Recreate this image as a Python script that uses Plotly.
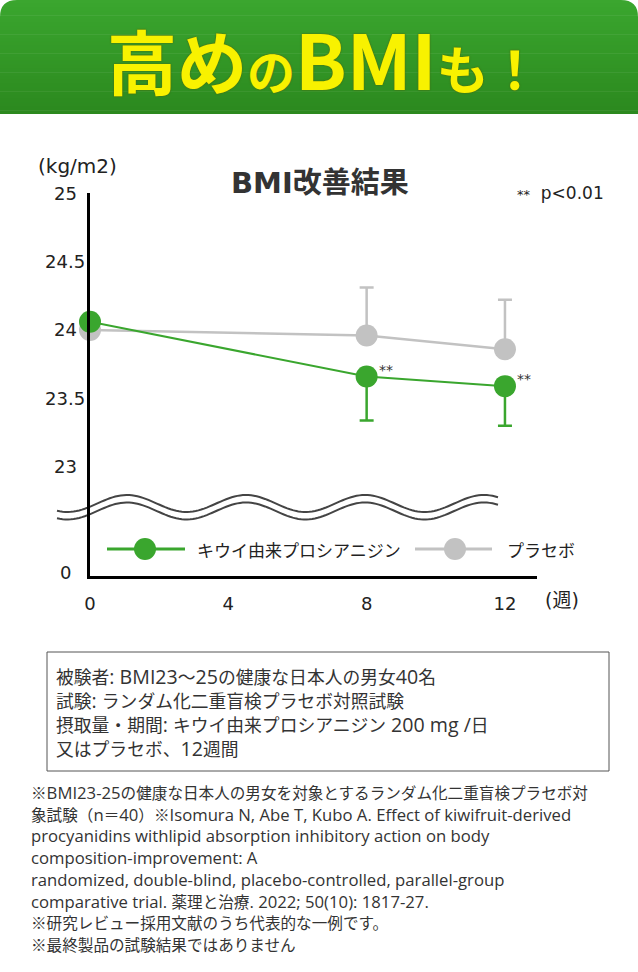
import re
import numpy as np
import plotly.graph_objects as go

# ---- data ----
weeks = [0, 8, 12]
kiwi_bmi = [24.06, 23.66, 23.59]
kiwi_err_minus = [0, 0.32, 0.29]
placebo_bmi = [24.00, 23.96, 23.86]
placebo_err_plus = [0, 0.35, 0.36]
signif_weeks = [8, 12]
signif_bmi = [23.66, 23.59]

x_ticks = [0, 4, 8, 12]
y_tickvals = [22.226, 23, 23.5, 24, 24.5, 25]
y_ticktext = ["0", "23", "23.5", "24", "24.5", "25"]

series_names = ["キウイ由来プロシアニジン", "プラセボ"]

box_lines = [
    "被験者: BMI23〜25の健康な日本人の男女40名",
    "試験: ランダム化二重盲検プラセボ対照試験",
    "摂取量・期間: キウイ由来プロシアニジン 200 mg /日",
    "又はプラセボ、12週間",
]
note_lines = [
    "※BMI23-25の健康な日本人の男女を対象とするランダム化二重盲検プラセボ対",
    "象試験（n＝40）※Isomura N, Abe T, Kubo A. Effect of kiwifruit-derived",
    "procyanidins withlipid absorption inhibitory action on body",
    "composition-improvement: A",
    "randomized, double-blind, placebo-controlled, parallel-group",
    "comparative trial. 薬理と治療. 2022; 50(10): 1817-27.",
    "※研究レビュー採用文献のうち代表的な一例です。",
    "※最終製品の試験結果ではありません",
]

GREEN = "#3aa62e"
GREY = "#c2c2c2"
TXT = "#222222"
CJK = "Noto Sans CJK JP"
AXF = "DejaVu Sans, Noto Sans CJK JP"
TXF = "Open Sans, Noto Sans CJK JP"

W, H = 638, 972
ML, MR, MT, MB = 90, 101, 193, 396
PW, PH = W - ML - MR, H - MT - MB
X_MAX = PW / 34.58


def px(x):
    return (x - ML) / PW


def py(y):
    return (H - MB - y) / PH


def widen_latin(text, size, scale):
    # the reference's latin glyphs run wider than the CJK ones around them
    out = ""
    for part in re.split(r"([\x20-\x7e]+)", text):
        if not part:
            continue
        s = size * scale if re.fullmatch(r"[\x20-\x7e]+", part) else size
        out += "<span style='font-size:%.1fpx'>%s</span>" % (s, part)
    return out


fig = go.Figure()

fig.add_trace(go.Scatter(
    x=weeks, y=placebo_bmi, mode="lines+markers", name=series_names[1],
    line=dict(color=GREY, width=2.5),
    marker=dict(size=22, color=GREY),
    error_y=dict(type="data", symmetric=False, array=placebo_err_plus,
                 arrayminus=[0] * len(weeks), color=GREY, thickness=2.5, width=7),
    cliponaxis=False, showlegend=False,
))
fig.add_trace(go.Scatter(
    x=weeks, y=kiwi_bmi, mode="lines+markers", name=series_names[0],
    line=dict(color=GREEN, width=2),
    marker=dict(size=22, color=GREEN),
    error_y=dict(type="data", symmetric=False, array=[0] * len(weeks),
                 arrayminus=kiwi_err_minus, color=GREEN, thickness=2.5, width=7),
    cliponaxis=False, showlegend=False,
))

shapes = []

# header band with vertical gradient
top_c = np.array([59, 166, 47])
bot_c = np.array([44, 137, 31])
n = 30
hb = 114
for i in range(n):
    c = top_c + (bot_c - top_c) * i / (n - 1)
    shapes.append(dict(type="rect", xref="paper", yref="paper",
                       x0=px(0), x1=px(W), y0=py(hb * i / n), y1=py(min(hb, hb * (i + 1) / n + 0.5)),
                       fillcolor="rgb(%d,%d,%d)" % tuple(c), line=dict(width=0), layer="below"))
r = 17
for cx, sx in [(0, 1), (W, -1)]:
    path = "M %f,%f L %f,%f Q %f,%f %f,%f Z" % (
        px(cx), py(0), px(cx + sx * r), py(0), px(cx), py(0), px(cx), py(r))
    shapes.append(dict(type="path", xref="paper", yref="paper", path=path,
                       fillcolor="white", line=dict(width=0), layer="below"))

# wavy axis-break lines
xs = np.linspace(57, 498, 160)
for off in [0, 7.5]:
    ys = 503.5 + off - 8.5 * np.cos(2 * np.pi * (xs - 127) / 119)
    path = "M " + " L ".join("%f,%f" % (px(a), py(b)) for a, b in zip(xs, ys))
    shapes.append(dict(type="path", xref="paper", yref="paper", path=path,
                       line=dict(color="#444444", width=2), layer="below"))

# custom legend
for (x0, x1, xm), col in [((107, 185, 145), GREEN), ((415, 492, 455), GREY)]:
    shapes.append(dict(type="line", xref="paper", yref="paper",
                       x0=px(x0), x1=px(x1), y0=py(549), y1=py(549),
                       line=dict(color=col, width=3)))
    shapes.append(dict(type="circle", xref="paper", yref="paper",
                       x0=px(xm - 11), x1=px(xm + 11), y0=py(538), y1=py(560),
                       fillcolor=col, line=dict(width=0)))

# info box
shapes.append(dict(type="rect", xref="paper", yref="paper",
                   x0=px(47), x1=px(609), y0=py(652), y1=py(771),
                   line=dict(color="#555555", width=1)))


def note(x, y, text, size, family=TXF, xanchor="left", color="#333333", **kw):
    return dict(xref="paper", yref="paper", x=px(x), y=py(y), xanchor=xanchor,
                yanchor="middle", text=text, showarrow=False,
                font=dict(family=family, size=size, color=color), **kw)


ann = []
ann.append(dict(
    xref="paper", yref="paper", x=px(324), y=py(57), xanchor="center", yanchor="middle",
    text="<span style='font-size:70px'>高め</span><span style='font-size:48px'>の</span>"
         "<span style='font-size:76px'>BMI</span><span style='font-size:52px'>も！</span>",
    showarrow=False,
    font=dict(family=CJK, color="#f8f200", size=70, weight="bold",
              shadow="0 0 2px #4e6a12, 0 0 1px #4e6a12"),
))
ann.append(note(320, 183, "<b>BMI改善結果</b>", 29, family=AXF, xanchor="center"))
ann.append(note(77, 166, "(kg/m2)", 20, family=AXF, xanchor="center", color=TXT))
ann.append(note(515, 193, "<span style='font-size:13px'>**</span>  p<0.01", 17,
                family=AXF, color=TXT))
ann.append(note(562, 600, "(週)", 19, family=AXF, xanchor="center", color=TXT))
for tv, tt in zip(y_tickvals, y_ticktext):
    ann.append(dict(xref="paper", yref="y", x=px(65), y=tv, xanchor="center", yanchor="middle",
                    text=tt, showarrow=False, font=dict(family=AXF, size=18, color=TXT)))
for wx, wy in zip(signif_weeks, signif_bmi):
    ann.append(dict(xref="x", yref="y", x=wx, y=wy, xanchor="left", yanchor="middle",
                    xshift=10, yshift=7, text="**", showarrow=False,
                    font=dict(family=AXF, size=14, color="#333333")))
for name, lx in zip(series_names, [195, 505]):
    ann.append(note(lx, 549, name, 17, family=CJK, color=TXT))

# info box text and footnotes: one block each, line pitch set by the base size (x1.3)
box_pitch, note_pitch = 24, 21.7
ann.append(note(54, 676 + box_pitch * (len(box_lines) - 1) / 2,
                "<br>".join(widen_latin(t, 17.8, 1.1) for t in box_lines),
                box_pitch / 1.3, align="left"))
ann.append(note(29, 793 + note_pitch * (len(note_lines) - 1) / 2,
                "<br>".join(widen_latin(t, 15.6, 1.07) for t in note_lines),
                note_pitch / 1.3, align="left"))

fig.update_layout(
    width=W, height=H, autosize=False,
    margin=dict(l=ML, r=MR, t=MT, b=MB, pad=0),
    paper_bgcolor="white", plot_bgcolor="rgba(0,0,0,0)",
    showlegend=False,
    shapes=shapes, annotations=ann,
    xaxis=dict(range=[0, X_MAX], tickvals=x_ticks, showgrid=False, zeroline=False,
               showline=True, linecolor="black", linewidth=3, ticks="", ticklabelstandoff=9,
               tickfont=dict(family=AXF, size=18, color=TXT), fixedrange=True),
    yaxis=dict(range=[22.204, 25.0], tickvals=y_tickvals, showticklabels=False,
               showgrid=False, zeroline=False, showline=True, linecolor="black", linewidth=3,
               ticks="", fixedrange=True),
)

fig.write_html("out.html", config={"displayModeBar": False},
               post_script="document.body.style.margin='0px';")
